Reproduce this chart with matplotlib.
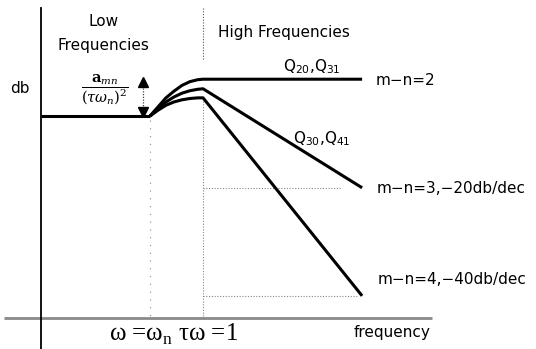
import matplotlib
matplotlib.use("Agg")
import matplotlib.pyplot as plt

plt.rcParams['mathtext.fontset'] = 'dejavusans'

# frequency in decades from w_n (0 = w_n, 1 = 1/tau), gain in db
freq = [0, 0.15, 0.3, 0.45, 0.6, 0.75, 0.9, 1.0, 4.0]
db_mn2 = [0, 5.5, 11, 15, 18.5, 20.8, 22, 22.3, 22.3]
db_mn3 = [0, 4.5, 8.5, 11.5, 13.8, 15.3, 16.2, 16.5, -43.5]
db_mn4 = [0, 3.5, 6.5, 8.5, 9.8, 10.6, 11, 11, -109]
low_freq = [-2.06, 0]
low_db = [0, 0]

curve_labels = ["m\u2212n=2", "m\u2212n=3,\u221220db/dec", "m\u2212n=4,\u221240db/dec"]
q_labels = [r"Q$_{20}$,Q$_{31}$", r"Q$_{30}$,Q$_{41}$"]

fig = plt.figure(figsize=(5.36, 3.49), dpi=100)
ax = fig.add_axes([0, 0, 1, 1])
ax.set_xlim(-2.83, 7.28)
ax.set_ylim(-141.2, 70.3)
ax.axis('off')

# axes
ax.plot([-2.75, 5.32], [-122.4, -122.4], color='#8a8a8a', lw=2.0, solid_capstyle='butt')
ax.plot([-2.06, -2.06], [65.5, -141.2], color='black', lw=1.3)

# guide lines
ax.plot([0, 0], [-2.5, -122.4], color='#888888', lw=0.8, ls=(0, (1, 6)))
ax.plot([1, 1], [65.5, 34], color='#555555', lw=0.8, ls=(0, (1, 1.5)))
ax.plot([1, 1], [9, -122.4], color='#888888', lw=0.8, ls=(0, (1, 1.5)))
ax.plot([1, 3.6], [db_mn3[-1], db_mn3[-1]], color='#888888', lw=0.8, ls=(0, (1, 1.5)))
ax.plot([1, 3.9], [db_mn4[-1], db_mn4[-1]], color='#888888', lw=0.8, ls=(0, (1, 1.5)))

# curves
for d in (db_mn2, db_mn3, db_mn4):
    ax.plot(freq, d, color='black', lw=2.2, solid_joinstyle='round', solid_capstyle='butt')
ax.plot(low_freq, low_db, color='black', lw=2.2, solid_capstyle='butt')

# gap arrow
ax.plot([-0.13, -0.13], [1.5, 20.5], color='#444444', lw=0.9, ls=(0, (1, 1.2)))
ax.plot([-0.13], [20.8], marker='^', color='black', ms=7)
ax.plot([-0.13], [2.6], marker='v', color='black', ms=7)
ax.text(-0.85, 15.5, r'$\dfrac{\mathbf{a}_{mn}}{(\tau\omega_n)^2}$', fontsize=10.5,
        ha='center', va='center', math_fontfamily='dejavuserif')

# text
fs = 11
ax.text(-0.87, 57, "Low", ha='center', va='center', fontsize=fs)
ax.text(-0.87, 43, "Frequencies", ha='center', va='center', fontsize=fs)
ax.text(1.28, 50.5, "High Frequencies", ha='left', va='center', fontsize=fs)
ax.text(-2.45, 16.4, "db", ha='center', va='center', fontsize=fs)
ax.text(2.51, 30, q_labels[0], ha='left', va='center', fontsize=fs)
ax.text(2.7, -13.5, q_labels[1], ha='left', va='center', fontsize=fs)
ax.text(4.25, db_mn2[-1] - 0.5, curve_labels[0], ha='left', va='center', fontsize=fs)
ax.text(4.28, db_mn3[-1] - 0.5, curve_labels[1], ha='left', va='center', fontsize=fs)
ax.text(4.3, db_mn4[-1] + 10, curve_labels[2], ha='left', va='center', fontsize=fs)
ax.text(4.57, -131, "frequency", ha='center', va='center', fontsize=fs)
ax.text(-0.77, -132.5, r"ω =ω$_\mathregular{n}$ τω =1", ha='left', va='center',
        fontsize=18, family='Liberation Serif')

fig.savefig("out.png", dpi=100)
